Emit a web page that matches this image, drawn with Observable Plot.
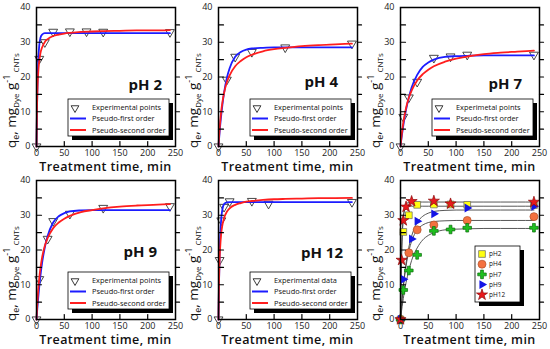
<!DOCTYPE html>
<html><head><meta charset="utf-8">
<script src="https://cdn.jsdelivr.net/npm/d3@7"></script>
<script src="https://cdn.jsdelivr.net/npm/@observablehq/plot@0.6"></script>
<style>
body{margin:0;background:#fff;}
#chart{position:relative;width:550px;height:349px;overflow:hidden;background:#fff;font-family:"Open Sans",sans-serif;}
</style></head><body><div id="chart"></div>
<script>
// ---- data ----
const fitTime = [0,1,2,3,5,7,10,15,20,30,40,50,60,80,100,120,150,180,210,240];
const pfo2  = [0,11.8,19.3,24.2,29.2,31.2,32.2,32.6,32.6,32.6,32.6,32.6,32.6,32.6,32.6,32.6,32.6,32.6,32.6,32.6];
const pso2  = [0,12.0,17.7,21.0,24.7,26.8,28.5,30.1,30.9,31.8,32.2,32.5,32.7,33.0,33.1,33.2,33.3,33.4,33.4,33.5];
const pfo4  = [0,2.1,4.1,6.0,9.2,12.0,15.4,19.7,22.5,25.8,27.2,27.9,28.2,28.4,28.5,28.5,28.5,28.5,28.5,28.5];
const pso4  = [0,2.8,5.1,7.1,10.3,12.7,15.4,18.5,20.5,23.1,24.6,25.7,26.4,27.4,28.0,28.4,28.9,29.2,29.4,29.6];
const pfo7  = [0,1.4,2.6,3.8,6.0,8.0,10.6,14.1,17.0,20.6,22.9,24.2,25.0,25.8,26.0,26.1,26.2,26.2,26.2,26.2];
const pso7  = [0,1.7,3.2,4.5,6.8,8.7,11.1,14.0,16.1,19.0,20.8,22.1,23.1,24.4,25.3,25.9,26.6,27.0,27.3,27.6];
const pfo9  = [0,2.2,4.2,6.1,9.5,12.5,16.2,20.8,24.0,27.9,29.7,30.6,31.1,31.4,31.5,31.5,31.5,31.5,31.5,31.5];
const pso9  = [0,3.3,6.0,8.3,12.0,14.7,17.8,21.2,23.4,26.3,27.9,29.0,29.8,30.9,31.5,32.0,32.5,32.8,33.0,33.2];
const pfo12 = [0,11.1,18.6,23.6,29.2,31.7,33.2,33.7,33.8,33.8,33.8,33.8,33.8,33.8,33.8,33.8,33.8,33.8,33.8,33.8];
const pso12 = [0,11.4,17.3,20.8,24.9,27.2,29.2,31.0,32.0,33.0,33.5,33.9,34.1,34.4,34.6,34.7,34.8,34.9,34.95,35.0];

const expT2  = [0,5,15,30,60,90,120,240];
const expQ2  = [0,25.2,30.0,33.0,33.1,33.1,33.0,32.9];
const expT4  = [0,15,30,60,120,240];
const expQ4  = [0,19.2,25.8,27.2,28.5,29.6];
const expT7  = [0,5,15,30,60,90,120,240];
const expQ7  = [0,8.5,14.1,18.6,25.5,25.9,26.4,26.4];
const expT9  = [0,5,20,30,60,120,240];
const expQ9  = [0,11.6,23.2,28.3,30.4,32.1,32.6];
const expT12 = [0,2,5,10,20,60,90,240];
const expQ12 = [0,17.1,28.5,32.4,34.0,34.1,33.3,33.8];

const xTicks = [0,50,100,150,200,250];
const yTicks = [0,10,20,30,40];
const yMinor = [5,10,15,20,25,30,35];
const xInner = [50,100,150,200];
const phNames = ["pH 2","pH 4","pH 7","pH 9","pH 12"];
const expNames = ["Experimental points","Experimental points","Experimetal points","Experimental points","Experimental data"];
const fitNames = ["Pseudo-first order","Pseudo-second order"];
const overviewNames = ["pH2","pH4","pH7","pH9","pH12"];
const xTitle = "Treatment time, min";

// ---- layout ----
const W = 182, H = 172, ML = 36, MR = 7, MT = 7, MB = 26;
const FW = W - ML - MR, FH = H - MT - MB;
const lefts = [0,182,364], tops = [0,173];
const phRight = [13,19,17,18,14], phBase = [90,87,89,84,85];
const BLUE = "#1c1cff", RED = "#ff1e1e";
const FONT = "Open Sans, sans-serif";

const rows = (t, q) => t.map((d, i) => ({t: d, q: q[i]}));
const tickShape = {draw(ctx, l) { ctx.moveTo(0, 0); ctx.lineTo(0, -l); }};

function frameMarks() {
  return [
    Plot.frame({stroke: "black", strokeWidth: 1.5}),
    Plot.vector(yMinor, {x: 0, y: d => d, length: 5, rotate: 90, anchor: "start", shape: tickShape, stroke: "black", strokeWidth: 1.2}),
    Plot.vector(yMinor, {x: 250, y: d => d, length: 4, rotate: 90, anchor: "start", shape: tickShape, stroke: "black", strokeWidth: 1.2}),
    Plot.vector(xInner, {x: d => d, y: 0, length: 5, rotate: 0, anchor: "start", shape: tickShape, stroke: "black", strokeWidth: 1.2}),
    Plot.axisX({ticks: xTicks, tickSize: 0, tickPadding: 3, label: null, fontSize: 9}),
    Plot.axisY({ticks: yTicks, tickSize: 0, tickPadding: 6, label: null, fontSize: 9})
  ];
}

function makePlot(marks) {
  return Plot.plot({
    width: W, height: H, marginLeft: ML, marginRight: MR, marginTop: MT, marginBottom: MB,
    x: {domain: [0, 250]}, y: {domain: [0, 40]},
    style: {fontFamily: FONT, fontSize: "9px", background: "transparent", overflow: "visible", color: "#222"},
    marks
  });
}

function txt(sel, x, y, size) {
  return sel.append("text").attr("x", x).attr("y", y).attr("text-anchor", "start")
    .attr("font-family", FONT).attr("font-size", size).attr("fill", "#111");
}

function decorate(svg) {
  const s = d3.select(svg);
  // y label
  const t = s.append("text").attr("transform", `translate(16,${MT + FH + 2}) rotate(-90)`)
    .attr("text-anchor", "start").attr("font-family", FONT).attr("font-size", 13.5).attr("fill", "#111");
  t.append("tspan").text("q");
  t.append("tspan").attr("font-size", 9).attr("dy", 3).text("e");
  t.append("tspan").attr("dy", -3).text(", mg");
  t.append("tspan").attr("font-size", 8).attr("dy", 3).text("Dye");
  t.append("tspan").attr("dy", -3).text(" g");
  t.append("tspan").attr("font-size", 9).attr("dy", -6).text("-1");
  t.append("tspan").attr("font-size", 8).attr("dy", 9).text(" CNTs");
  // x title
  s.append("text").attr("x", ML + FW / 2).attr("y", MT + FH + 25).attr("text-anchor", "middle")
    .attr("font-family", FONT).attr("font-size", 12.5).attr("font-weight", 600).attr("letter-spacing", 0.4)
    .attr("fill", "#111").text(xTitle);
}

function shadowBox(g, w, h) {
  g.append("rect").attr("x", 4).attr("y", 4).attr("width", w).attr("height", h).attr("fill", "black");
  g.append("rect").attr("width", w).attr("height", h).attr("fill", "white").attr("stroke", "black").attr("stroke-width", 0.8);
}

const chart = document.getElementById("chart");
function place(svg, i) {
  svg.style.position = "absolute";
  svg.style.left = lefts[i % 3] + "px";
  svg.style.top = tops[Math.floor(i / 3)] + "px";
  chart.appendChild(svg);
}

const panels = [
  [expT2, expQ2, pfo2, pso2],
  [expT4, expQ4, pfo4, pso4],
  [expT7, expQ7, pfo7, pso7],
  [expT9, expQ9, pfo9, pso9],
  [expT12, expQ12, pfo12, pso12]
];

panels.forEach(([et, eq, pf, ps], i) => {
  const svg = makePlot([
    Plot.dot(rows(et, eq), {x: "t", y: "q", symbol: "triangle", rotate: 180, r: 3.3, stroke: "#333", strokeWidth: 0.9, fill: "none"}),
    Plot.line(rows(fitTime, pf), {x: "t", y: "q", stroke: BLUE, strokeWidth: 1.8, curve: "monotone-x"}),
    Plot.line(rows(fitTime, ps), {x: "t", y: "q", stroke: RED, strokeWidth: 1.8, curve: "monotone-x"}),
    ...frameMarks()
  ]);
  decorate(svg);
  const s = d3.select(svg);
  s.append("text").attr("x", ML + FW - phRight[i]).attr("y", phBase[i]).attr("text-anchor", "end")
    .attr("font-family", FONT).attr("font-size", 15).attr("font-weight", 700).attr("fill", "#111").text(phNames[i]);
  // legend
  const bw = 101, bh = 37;
  const g = s.append("g").attr("transform", `translate(${ML + FW - 6 - bw},${MT + FH - 10 - bh})`);
  shadowBox(g, bw, bh);
  g.append("path").attr("d", d3.symbol(d3.symbolTriangle, 26)()).attr("transform", "translate(7,9) rotate(180)")
    .attr("fill", "none").attr("stroke", "#222").attr("stroke-width", 0.9);
  g.append("line").attr("x1", 2).attr("x2", 18).attr("y1", 19.5).attr("y2", 19.5).attr("stroke", BLUE).attr("stroke-width", 2);
  g.append("line").attr("x1", 2).attr("x2", 18).attr("y1", 31).attr("y2", 31).attr("stroke", RED).attr("stroke-width", 2);
  [expNames[i], fitNames[0], fitNames[1]].forEach((label, k) => {
    txt(g, 24, [8.5, 19.5, 31][k], 7.4).attr("dy", "0.35em").text(label);
  });
  place(svg, i);
});

// ---- overview panel ----
const styles = [
  {symbol: "square", r: 3.8, fill: "#ffff10", stroke: "#666"},
  {symbol: "circle", r: 4.0, fill: "#f4713f", stroke: "#b0502a"},
  {symbol: "cross", r: 3.6, fill: "#1fbf1f", stroke: "#0d6d0d"},
  {symbol: "triangle", r: 3.3, fill: "#1414e6", stroke: "none", rotate: 90},
  {symbol: "star", r: 3.5, fill: "#e8191c", stroke: "#8d0c0c"}
];
const ovMarks = [];
panels.forEach(([et, eq, pf], i) => {
  ovMarks.push(Plot.line(rows(fitTime, pf), {x: "t", y: "q", stroke: "#444", strokeWidth: 0.9, curve: "monotone-x"}));
});
panels.forEach(([et, eq], i) => {
  const st = styles[i];
  ovMarks.push(Plot.dot(rows(et, eq), {x: "t", y: "q", symbol: st.symbol, r: st.r, fill: st.fill, stroke: st.stroke, strokeWidth: 0.7, rotate: st.rotate || 0}));
});
const svg6 = makePlot([...ovMarks, ...frameMarks()]);
decorate(svg6);
{
  const s = d3.select(svg6);
  const bw = 45, bh = 56;
  const g = s.append("g").attr("transform", `translate(${ML + FW - 19 - bw},${MT + FH - 17 - bh})`);
  shadowBox(g, bw, bh);
  const symMap = {square: d3.symbolSquare, circle: d3.symbolCircle, cross: d3.symbolCross, triangle: d3.symbolTriangle, star: d3.symbolStar};
  overviewNames.forEach((name, k) => {
    const st = styles[k];
    const y = 8 + k * 10.2;
    g.append("path").attr("d", d3.symbol(symMap[st.symbol], Math.PI * st.r * st.r)())
      .attr("transform", `translate(7,${y}) rotate(${st.rotate || 0})`)
      .attr("fill", st.fill).attr("stroke", st.stroke).attr("stroke-width", 0.7);
    txt(g, 14, y, 6.5).attr("dy", "0.35em").text(name);
  });
}
place(svg6, 5);
</script></body></html>
